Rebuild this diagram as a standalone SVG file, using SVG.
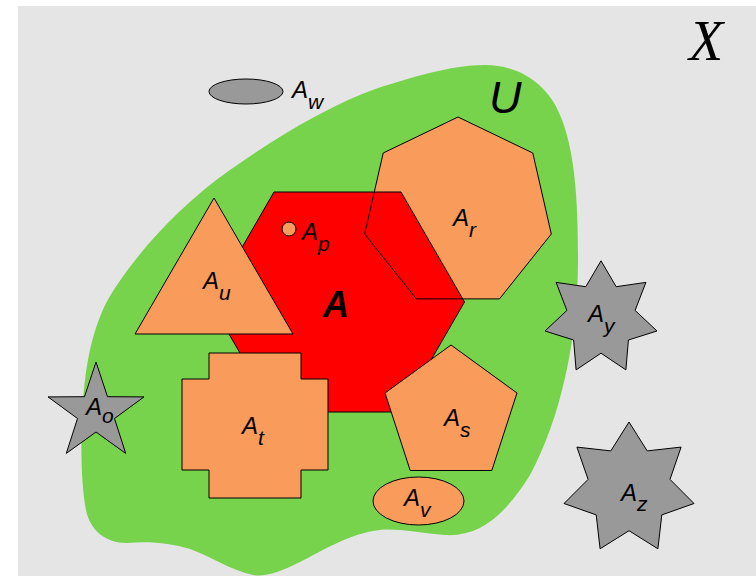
<svg xmlns="http://www.w3.org/2000/svg" width="756" height="576" viewBox="0 0 756 576">
<style>
.sh{stroke:#000;stroke-width:1;stroke-linejoin:miter}
.or{fill:#f99b5a}
.gr{fill:#999999}
.lbl{font-family:"Liberation Sans",Arial,sans-serif;font-style:italic;font-size:24px;fill:#000}
.sub{font-size:21px}
</style>
<rect x="0" y="0" width="756" height="576" fill="#ffffff"/>
<rect id="X" x="18" y="6" width="738" height="570" fill="#e5e5e5"/>
<g id="U">
<path d="M378 88 C410 78,450 65,485 65 C520 65,548 85,560 115 C575 150,578 200,578 260 C578 340,560 420,530 475 C505 515,480 537,445 535 C420 533,395 528,380 530 C350 533,320 552,300 562 C280 572,265 577,253 575 C230 570,210 556,190 549 C170 543,150 541,127 543 C105 543,90 530,86 510 C80 480,80 420,85 380 C90 340,100 310,115 288 C140 250,180 205,230 170 C280 135,330 105,378 88 Z" fill="#77d34b"/>
</g>
<g id="Ar_fill">
<polygon class="or" points="458,117 532.8,153 551.3,234 499.5,298.9 416.5,298.9 364.7,234 383.2,153"/>
</g>
<g id="A">
<polygon class="sh" fill="#ff0000" points="274,192 401,192 464.5,302 401,412 274,412 210.5,302"/>
</g>
<g id="Ar">
<polygon class="sh" fill="none" points="458,117 532.8,153 551.3,234 499.5,298.9 416.5,298.9 364.7,234 383.2,153"/>
</g>
<g id="Au">
<polygon class="sh or" points="214,198 293,334 135,334"/>
</g>
<g id="Ap">
<circle class="sh or" cx="289" cy="229" r="7"/>
</g>
<g id="At">
<polygon class="sh or" points="209,353 301,353 301,379 328,379 328,470 301,470 301,498 209,498 209,470 182,470 182,379 209,379"/>
</g>
<g id="As">
<polygon class="sh or" points="451,345 517,393 491.8,470.5 410.2,470.5 385,393"/>
</g>
<g id="Av">
<ellipse class="sh or" cx="418.5" cy="501" rx="45.5" ry="24"/>
</g>
<g id="Ao">
<polygon class="sh gr" points="96,362 107.5,396.7 144,396.9 114.5,418.5 125.7,453.4 96,432 66.3,453.4 77.5,418.5 48,396.9 84.5,396.7"/>
</g>
<g id="Ay">
<polygon class="sh gr" points="601,260.8 616.2,286.7 645.9,282.4 635.1,310.4 657,331 628.4,340 625.9,369.9 601,353.2 576.1,369.9 573.6,340 545,331 566.9,310.4 556.1,282.4 585.8,286.7"/>
</g>
<g id="Az">
<polygon class="sh gr" points="629,422 647.2,450.9 681.1,447.1 670,479.4 694,503.5 661.8,514.9 657.9,548.8 629,530.7 600.1,548.8 596.2,514.9 564,503.5 588.1,479.4 576.9,447.1 610.8,450.9"/>
</g>
<g id="Aw">
<ellipse class="sh gr" cx="246" cy="91.5" rx="37" ry="12.5"/>
</g>
<g id="labels">
<text x="706" y="60" text-anchor="middle" font-family="'Liberation Serif','Times New Roman',serif" font-style="italic" font-size="56">X</text>
<text x="489" y="113" class="lbl" style="font-size:45px">U</text>
<text x="323" y="317" font-family="'Liberation Sans',Arial,sans-serif" font-style="italic" font-weight="bold" font-size="36">A</text>
<text x="292" y="98" class="lbl">A<tspan class="sub" dy="11">w</tspan></text>
<text x="302" y="240" class="lbl">A<tspan class="sub" dy="11">p</tspan></text>
<text x="453" y="226" class="lbl">A<tspan class="sub" dy="11">r</tspan></text>
<text x="203" y="289" class="lbl">A<tspan class="sub" dy="11">u</tspan></text>
<text x="242" y="434" class="lbl">A<tspan class="sub" dy="11">t</tspan></text>
<text x="86" y="415" class="lbl">A<tspan class="sub" dy="8">o</tspan></text>
<text x="444" y="426" class="lbl">A<tspan class="sub" dy="11">s</tspan></text>
<text x="404" y="506" class="lbl">A<tspan class="sub" dy="11">v</tspan></text>
<text x="588" y="322" class="lbl">A<tspan class="sub" dy="11">y</tspan></text>
<text x="621" y="501" class="lbl">A<tspan class="sub" dy="10">z</tspan></text>
</g>
</svg>
